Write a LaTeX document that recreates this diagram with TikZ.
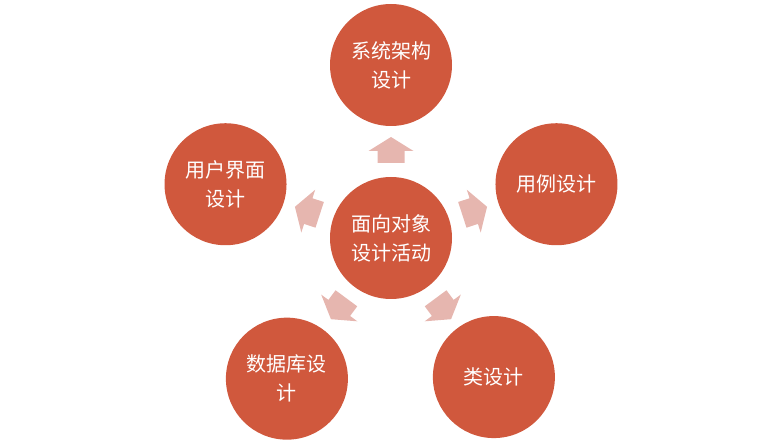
\documentclass[tikz,border=0pt]{standalone}
\usepackage{fontspec}
\newfontfamily\cjk{Noto Sans CJK SC}
\usetikzlibrary{calc}
\definecolor{circc}{HTML}{D0583D}
\definecolor{arrc}{HTML}{E6B6AF}
\begin{document}
\begin{tikzpicture}[x=1pt,y=1pt,
  bubble/.style={circle, fill=circc, minimum size=122pt, inner sep=0pt, text=white,
    align=center, font=\cjk\fontsize{20}{29}\selectfont},
  blockarrow/.style={fill=arrc}]
\useasboundingbox (0,0) rectangle (779,442);
\coordinate (O) at (391,204);
\node[bubble] (c) at (O) {面向对象\\设计活动};
\node[bubble] (t) at ($(O)+(90:173)$) {系统架构\\设计};
\node[bubble] (r) at ($(O)+(18:174)$) {用例设计};
\node[bubble] (l) at ($(O)+(162:174)$) {用户界面\\设计};
\node[bubble] (bl) at ($(O)+(233.5:175)$) {数据库设\\计};
\node[bubble] (br) at ($(O)+(306.5:173)$) {类设计};
\foreach \a in {90,18,162,233.5,306.5}{
  \fill[blockarrow, shift={(O)}, rotate=\a]
    (75,-13.5) -- (87,-13.5) -- (87,-22.5) -- (101,0) -- (87,22.5) -- (87,13.5) -- (75,13.5) -- cycle;
}
\end{tikzpicture}
\end{document}
